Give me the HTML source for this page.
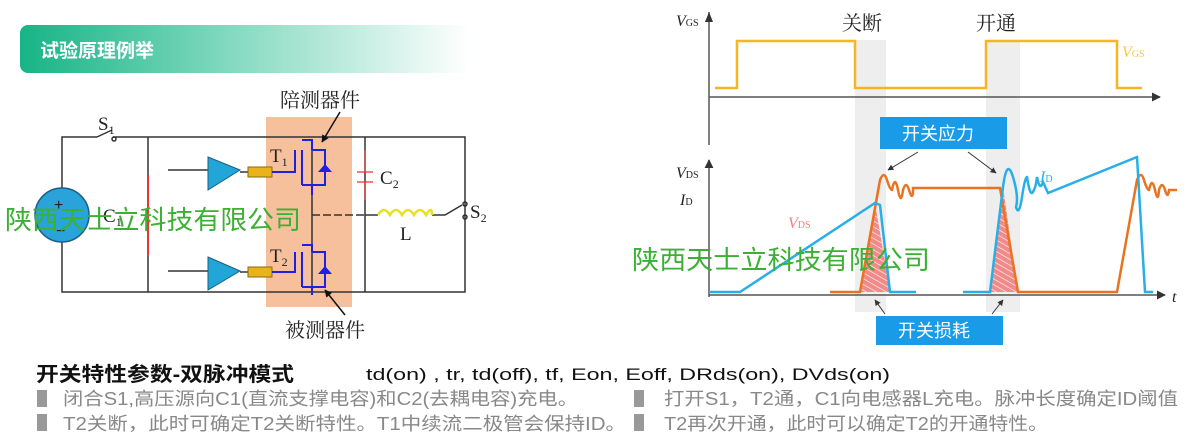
<!DOCTYPE html><html><head><meta charset="utf-8"><style>
html,body{margin:0;padding:0;background:#fff;width:1200px;height:441px;overflow:hidden}
svg{display:block}
text{font-family:"Liberation Sans","Noto Sans CJK SC",sans-serif}
.s{font-family:"Liberation Serif","Noto Serif CJK SC",serif}
</style></head><body>
<svg width="1200" height="441" viewBox="0 0 1200 441">
<defs>
<linearGradient id="hg" x1="0" x2="1"><stop offset="0" stop-color="#17b486"/><stop offset="0.45" stop-color="#7fd8bd"/><stop offset="1" stop-color="#fff"/></linearGradient>
<pattern id="hatch" width="5" height="5" patternUnits="userSpaceOnUse" patternTransform="rotate(-60)"><rect width="5" height="5" fill="#f28a8a"/><line x1="0" y1="0" x2="0" y2="5" stroke="#fff" stroke-width="1.2"/></pattern>
<marker id="ar" viewBox="0 0 10 10" refX="9" refY="5" markerWidth="6" markerHeight="6" orient="auto"><path d="M0,0L10,5L0,10z" fill="#333"/></marker>
<marker id="ab" viewBox="0 0 10 10" refX="9" refY="5" markerWidth="5" markerHeight="5" orient="auto"><path d="M0,0L10,5L0,10z" fill="#111"/></marker>
</defs>
<rect x="20" y="25" width="450" height="48" rx="8" fill="url(#hg)"/>
<text x="40" y="57" font-size="19" font-weight="bold" fill="#fff">试验原理例举</text>
<rect x="266" y="117" width="86" height="190" fill="#f6c09c"/>
<g stroke="#333" stroke-width="1.5" fill="none">
<path d="M62,188V137H97M113,137H465V292H62V242"/>
<path d="M97,137L112,130"/><circle cx="114" cy="139" r="2"/>
<path d="M148,137V292M365,137V292"/>
<path d="M168,170H208M168,271H208"/>
<path d="M312,150V292"/>
<path d="M312,215H365" stroke-dasharray="8,3"/>
<path d="M365,215H378M432,215H445L462,205"/>
<circle cx="465" cy="204" r="2"/><circle cx="465" cy="217" r="2"/>
</g>
<path d="M148,175V255" stroke="#e33" stroke-width="2"/>
<path d="M365,150V172M365,182V200M357,172H373M357,182H373" stroke="#e33" stroke-width="1.2" fill="none"/>
<path d="M378,215q6,-10 12,0q6,-10 12,0q6,-10 12,0q6,-10 12,0q6,-10 6,0" stroke="#e8e020" stroke-width="2.5" fill="none"/>
<circle cx="62" cy="215" r="27" fill="#29a3d9" stroke="#1a5f8a" stroke-width="1.5"/>
<text x="54" y="210" font-size="16" fill="#222">+</text><text x="56" y="236" font-size="16" fill="#222">−</text>
<polygon points="208,157 240,170 208,190" fill="#22a6d8" stroke="#17607f"/>
<polygon points="208,257 240,271 208,290" fill="#22a6d8" stroke="#17607f"/>
<path d="M240,172H248M240,272H248" stroke="#333" stroke-width="1.5"/>
<rect x="248" y="167" width="24" height="10" fill="#eab31a" stroke="#8a6a10"/>
<rect x="248" y="267" width="24" height="10" fill="#eab31a" stroke="#8a6a10"/>
<g stroke="#2020e0" stroke-width="2" fill="none">
<path d="M272,172H295V150M302,150V185M302,140H312V150M302,185H312V195M312,150H325V185H312"/>
<path d="M272,272H295V252M302,252V287M302,245H312V252M302,287H312V295M312,252H325V287H312"/>
</g>
<polygon points="318,172 325,164 332,172" fill="#2020e0"/><polygon points="318,274 325,266 332,274" fill="#2020e0"/>
<path d="M340,112L322,142" stroke="#111" stroke-width="1.5" marker-end="url(#ab)"/>
<path d="M345,315L325,290" stroke="#111" stroke-width="1.5" marker-end="url(#ab)"/>
<text x="280" y="107" font-size="20" fill="#222" class="s">陪测器件</text>
<text x="285" y="337" font-size="20" fill="#222" class="s">被测器件</text>
<text x="98" y="130" font-size="19" class="s" fill="#222">S<tspan font-size="12" dy="4">1</tspan></text>
<text x="270" y="162" font-size="19" class="s" fill="#222">T<tspan font-size="12" dy="4">1</tspan></text>
<text x="270" y="262" font-size="19" class="s" fill="#222">T<tspan font-size="12" dy="4">2</tspan></text>
<text x="380" y="184" font-size="19" class="s" fill="#222">C<tspan font-size="12" dy="4">2</tspan></text>
<text x="400" y="240" font-size="19" class="s" fill="#222">L</text>
<text x="470" y="218" font-size="19" class="s" fill="#222">S<tspan font-size="12" dy="4">2</tspan></text>
<text x="103" y="222" font-size="19" class="s" fill="#222">C<tspan font-size="12" dy="4">1</tspan></text>
<rect x="855" y="40" width="31" height="272" fill="#eee"/>
<rect x="986" y="40" width="34" height="272" fill="#eee"/>
<g stroke="#555" stroke-width="1.5">
<path d="M709,145V12"/><path d="M709,97H1160" marker-end="url(#ar)"/>
<path d="M709,297V160" marker-end="url(#ar)"/><path d="M709,295H1165" marker-end="url(#ar)"/>
</g>
<path d="M709,12l-4,10h8z" fill="#333"/>
<path d="M715,88H737V41H855V88H986V41H1117V88H1142" stroke="#f5b622" stroke-width="2.5" fill="none"/>
<text x="676" y="26" font-size="16" class="s" font-style="italic" fill="#222">V<tspan font-size="10" font-style="normal">GS</tspan></text>
<text x="1122" y="57" font-size="16" class="s" font-style="italic" fill="#f5c842">V<tspan font-size="10" font-style="normal">GS</tspan></text>
<text x="842" y="30" font-size="20" class="s" fill="#222">关断</text>
<text x="976" y="30" font-size="20" class="s" fill="#222">开通</text>
<text x="676" y="178" font-size="16" class="s" font-style="italic" fill="#222">V<tspan font-size="10" font-style="normal">DS</tspan></text>
<text x="680" y="205" font-size="16" class="s" font-style="italic" fill="#222">I<tspan font-size="10" font-style="normal">D</tspan></text>
<text x="1172" y="302" font-size="16" class="s" font-style="italic" fill="#222">t</text>
<polygon points="860,292 875,203 890,292" fill="url(#hatch)"/>
<polygon points="990,292 1003,187 1018,292" fill="url(#hatch)"/>
<path d="M830,292H860L880,180q4,-10 7,0t5,10q3,-16 6,0t5,0q3,-10 6,0t4,3V188H1000L1018,292H1117L1137,180q4,-10 7,0t5,10q3,-14 6,0t4,0q3,-10 6,0t4,0H1177" stroke="#e87320" stroke-width="2.5" fill="none"/>
<path d="M709,292H740L875,203L880,205L890,292H916M963,292H990L1003,187q4,-30 10,-10t3,30q3,10 6,-10t5,-20q3,20 6,15t4,-15q3,15 6,5L1048,193L1137,157L1145,292H1153" stroke="#28aee8" stroke-width="2.5" fill="none"/>
<text x="788" y="228" font-size="16" class="s" font-style="italic" fill="#ee8080">V<tspan font-size="10" font-style="normal">DS</tspan></text>
<text x="1040" y="182" font-size="16" class="s" font-style="italic" fill="#28aee8">I<tspan font-size="10" font-style="normal">D</tspan></text>
<rect x="880" y="117" width="127" height="32" fill="#1a9be8"/>
<text x="902" y="140" font-size="18" fill="#fff">开关应力</text>
<rect x="876" y="316" width="127" height="29" fill="#1a9be8"/>
<text x="898" y="337" font-size="18" fill="#fff">开关损耗</text>
<g stroke="#333" stroke-width="1" marker-end="url(#ar)">
<path d="M918,152L888,170"/><path d="M968,152L996,173"/>
<path d="M885,314L875,300"/><path d="M992,314L1003,300"/>
</g>
<text x="5" y="229" font-size="26" fill="#3bb034" textLength="296" lengthAdjust="spacingAndGlyphs">陕西天士立科技有限公司</text>
<text x="632" y="269" font-size="26" fill="#3bb034" textLength="298" lengthAdjust="spacingAndGlyphs">陕西天士立科技有限公司</text>
<text x="36" y="381" font-size="20" font-weight="bold" fill="#111" textLength="258" lengthAdjust="spacingAndGlyphs">开关特性参数-双脉冲模式</text>
<text x="366" y="380" font-size="17" fill="#111" textLength="524" lengthAdjust="spacingAndGlyphs">td(on) , tr, td(off), tf, Eon, Eoff, DRds(on), DVds(on)</text>
<rect x="37" y="390" width="10" height="17" fill="#999"/><rect x="37" y="414" width="10" height="17" fill="#999"/>
<rect x="634" y="390" width="10" height="17" fill="#999"/><rect x="634" y="414" width="10" height="17" fill="#999"/>
<g font-size="18" fill="#888">
<text x="63" y="405" textLength="515" lengthAdjust="spacingAndGlyphs">闭合S1,高压源向C1(直流支撑电容)和C2(去耦电容)充电。</text>
<text x="63" y="430" textLength="563" lengthAdjust="spacingAndGlyphs">T2关断，此时可确定T2关断特性。T1中续流二极管会保持ID。</text>
<text x="664" y="405" textLength="514" lengthAdjust="spacingAndGlyphs">打开S1，T2通，C1向电感器L充电。脉冲长度确定ID阈值</text>
<text x="664" y="430" textLength="384" lengthAdjust="spacingAndGlyphs">T2再次开通，此时可以确定T2的开通特性。</text>
</g>
</svg>
</body></html>
